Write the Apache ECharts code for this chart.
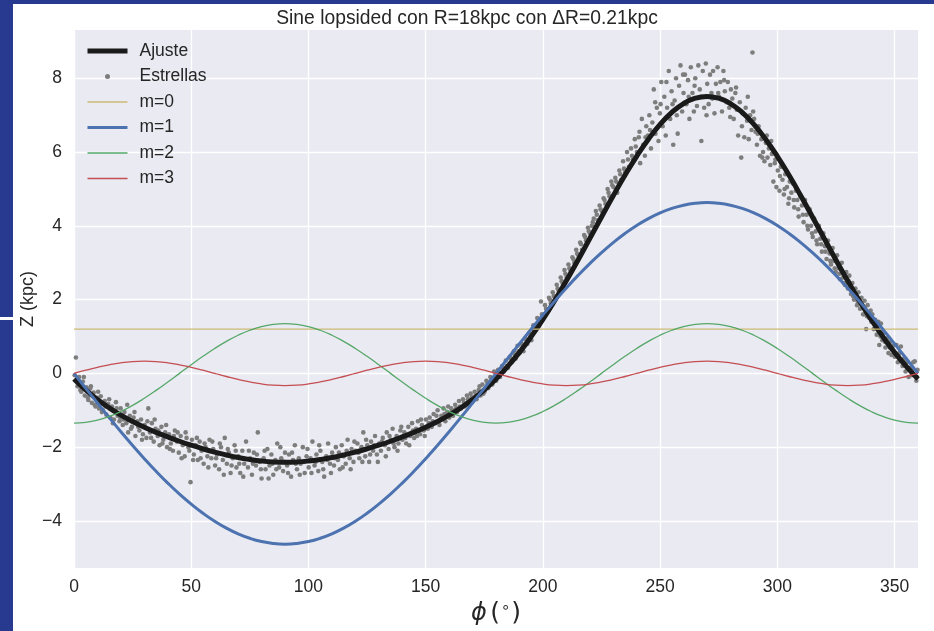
<!DOCTYPE html>
<html>
<head>
<meta charset="utf-8">
<script src="https://cdn.jsdelivr.net/npm/echarts@6/dist/echarts.min.js"></script>
<style>
html,body{margin:0;padding:0;background:#fff;}
#chart{width:934px;height:631px;}
</style>
</head>
<body>
<div id="chart"></div>
<script>
// ---- data ----
const titleText = 'Sine lopsided con R=18kpc con \u0394R=0.21kpc';
const seriesNames = ['Ajuste', 'Estrellas', 'm=0', 'm=1', 'm=2', 'm=3'];
const xTicks = [0, 50, 100, 150, 200, 250, 300, 350];
const yTicks = [-4, -2, 0, 2, 4, 6, 8];

const phiGrid = [0,5,10,15,20,25,30,35,40,45,50,55,60,65,70,75,80,85,90,95,100,105,110,115,120,125,130,135,140,145,150,155,160,165,170,175,180,185,190,195,200,205,210,215,220,225,230,235,240,245,250,255,260,265,270,275,280,285,290,295,300,305,310,315,320,325,330,335,340,345,350,355,360];

const ajuste = [-0.15,-0.448,-0.708,-0.934,-1.131,-1.306,-1.46,-1.599,-1.724,-1.841,-1.948,-2.046,-2.135,-2.213,-2.282,-2.336,-2.377,-2.402,-2.41,-2.402,-2.377,-2.336,-2.282,-2.213,-2.135,-2.046,-1.948,-1.841,-1.724,-1.599,-1.46,-1.306,-1.131,-0.934,-0.708,-0.448,-0.15,0.19,0.57,0.996,1.463,1.97,2.51,3.075,3.656,4.241,4.816,5.37,5.885,6.349,6.75,7.074,7.315,7.46,7.51,7.46,7.315,7.074,6.75,6.349,5.885,5.37,4.816,4.241,3.656,3.075,2.51,1.97,1.463,0.996,0.57,0.19,-0.15];

const m0Phi = [0, 360];
const m0 = [1.2, 1.2];

const m1 = [0,-0.404,-0.804,-1.198,-1.583,-1.957,-2.315,-2.656,-2.976,-3.274,-3.547,-3.793,-4.01,-4.196,-4.351,-4.472,-4.56,-4.612,-4.63,-4.612,-4.56,-4.472,-4.351,-4.196,-4.01,-3.793,-3.547,-3.274,-2.976,-2.656,-2.315,-1.957,-1.583,-1.198,-0.804,-0.404,0,0.404,0.804,1.198,1.583,1.957,2.315,2.656,2.976,3.274,3.547,3.793,4.01,4.196,4.351,4.472,4.56,4.612,4.63,4.612,4.56,4.472,4.351,4.196,4.01,3.793,3.547,3.274,2.976,2.656,2.315,1.957,1.583,1.198,0.804,0.404,0];

const m2 = [-1.35,-1.329,-1.269,-1.169,-1.034,-0.868,-0.675,-0.462,-0.234,0,0.234,0.462,0.675,0.868,1.034,1.169,1.269,1.329,1.35,1.329,1.269,1.169,1.034,0.868,0.675,0.462,0.234,0,-0.234,-0.462,-0.675,-0.868,-1.034,-1.169,-1.269,-1.329,-1.35,-1.329,-1.269,-1.169,-1.034,-0.868,-0.675,-0.462,-0.234,0,0.234,0.462,0.675,0.868,1.034,1.169,1.269,1.329,1.35,1.329,1.269,1.169,1.034,0.868,0.675,0.462,0.234,0,-0.234,-0.462,-0.675,-0.868,-1.034,-1.169,-1.269,-1.329,-1.35];

const m3 = [0,0.085,0.165,0.233,0.286,0.319,0.33,0.319,0.286,0.233,0.165,0.085,0,-0.085,-0.165,-0.233,-0.286,-0.319,-0.33,-0.319,-0.286,-0.233,-0.165,-0.085,0,0.085,0.165,0.233,0.286,0.319,0.33,0.319,0.286,0.233,0.165,0.085,0,-0.085,-0.165,-0.233,-0.286,-0.319,-0.33,-0.319,-0.286,-0.233,-0.165,-0.085,0,0.085,0.165,0.233,0.286,0.319,0.33,0.319,0.286,0.233,0.165,0.085,0,-0.085,-0.165,-0.233,-0.286,-0.319,-0.33,-0.319,-0.286,-0.233,-0.165,-0.085,0];

const estrellas = [
[0.3,-0.05],[0.8,0.43],[1.5,-0.35],[2.2,-0.1],[3.1,-0.5],[3.8,-0.22],[4.6,-0.6],[5.3,-0.38],[6.1,-0.72],[6.9,-0.41],[7.6,-0.8],[8.4,-0.52],[9.2,-0.9],[9.9,-0.66],
[10.7,-0.95],[11.4,-0.62],[12.3,-1.0],[13.1,-0.75],[13.8,-1.12],[14.6,-0.83],[15.5,-1.2],[16.2,-0.9],[17.0,-1.25],[17.9,-0.78],[18.6,-1.15],[19.4,-1.3],[19.9,-0.95],
[20.8,-1.4],[21.5,-1.05],[22.3,-1.35],[23.1,-1.6],[23.8,-1.15],[24.7,-1.45],[25.4,-1.2],[26.2,-1.7],[27.0,-1.3],[27.9,-1.55],[28.6,-1.25],[29.4,-1.65],[30.1,-1.4],
[30.9,-1.75],[31.7,-0.95],[32.4,-1.6],[33.2,-1.35],[34.0,-1.85],[34.8,-1.5],[35.7,-1.7],[36.5,-1.95],[37.3,-1.45],[38.1,-1.8],[38.9,-1.6],[39.7,-2.0],
[40.5,-1.65],[41.3,-1.9],[42.2,-2.1],[43.0,-1.55],[43.9,-1.85],[44.7,-2.15],[45.5,-1.7],[46.4,-1.95],[47.2,-2.25],[48.0,-1.75],[48.8,-2.0],[49.7,-2.95],[50.3,-1.8],
[51.1,-2.2],[51.9,-1.95],[52.8,-2.35],[53.6,-1.85],[54.4,-2.1],[55.3,-2.45],[56.1,-2.0],[56.9,-2.25],[57.8,-1.8],[58.6,-2.3],[59.4,-2.05],[60.2,-2.5],
[61.0,-2.2],[61.9,-2.6],[62.7,-2.0],[63.5,-2.35],[64.3,-1.75],[65.2,-2.45],[66.0,-2.15],[66.8,-2.7],[67.7,-2.3],[68.5,-1.95],[69.3,-2.55],[70.1,-2.25],
[70.9,-2.7],[71.8,-2.1],[72.6,-2.45],[73.4,-1.85],[74.2,-2.55],[75.1,-2.3],[75.9,-2.75],[76.7,-2.15],[77.6,-2.5],[78.4,-1.6],[79.2,-2.4],[80.0,-2.85],
[80.9,-2.3],[81.7,-2.6],[82.5,-2.05],[83.4,-2.5],[84.2,-2.2],[85.0,-2.75],[85.9,-2.35],[86.7,-1.9],[87.5,-2.55],[88.4,-2.3],[89.2,-2.65],[90.0,-2.15],
[90.9,-2.5],[91.7,-2.2],[92.6,-2.8],[93.4,-2.35],[94.2,-1.95],[95.1,-2.6],[95.9,-2.3],[96.7,-2.45],[97.6,-2.0],[98.4,-2.7],[99.2,-2.25],[100.1,-2.55],
[100.9,-2.3],[101.7,-1.85],[102.6,-2.5],[103.4,-2.2],[104.2,-2.65],[105.1,-2.1],[105.9,-2.4],[106.7,-2.8],[107.6,-2.25],[108.4,-1.9],[109.2,-2.45],[110.1,-2.15],
[110.9,-2.5],[111.7,-2.0],[112.6,-2.35],[113.4,-2.6],[114.2,-1.95],[115.1,-2.25],[115.9,-2.45],[116.7,-1.8],[117.6,-2.3],[118.4,-2.05],[119.2,-2.4],[120.1,-2.1],
[120.9,-1.9],[121.7,-2.3],[122.6,-2.0],[123.4,-1.6],[124.2,-2.25],[125.1,-1.95],[125.9,-2.4],[126.7,-1.85],[127.6,-2.1],[128.4,-1.7],[129.2,-2.2],[130.1,-1.9],
[130.9,-2.1],[131.7,-1.75],[132.6,-1.95],[133.4,-1.6],[134.2,-2.05],[135.1,-1.8],[135.9,-1.5],[136.7,-2.0],[137.6,-1.7],[138.4,-1.9],[139.2,-1.55],[140.1,-1.8],
[140.9,-1.6],[141.7,-1.9],[142.6,-1.45],[143.4,-1.7],[144.2,-1.35],[145.1,-1.75],[145.9,-1.5],[146.7,-1.3],[147.6,-1.65],[148.4,-1.4],[149.2,-1.55],[150.1,-1.25],
[150.9,-1.5],[151.7,-1.2],[152.6,-1.45],[153.4,-1.1],[154.2,-1.35],[155.1,-1.0],[155.9,-1.4],[156.7,-1.15],[157.6,-0.95],[158.4,-1.3],[159.2,-1.05],[160.1,-1.2],
[160.9,-0.95],[161.7,-1.15],[162.6,-0.85],[163.4,-1.05],[164.2,-0.75],[165.1,-0.95],[165.9,-0.7],[166.7,-0.9],[167.6,-0.6],[168.4,-0.85],[169.2,-0.55],[170.1,-0.75],
[170.9,-0.5],[171.7,-0.7],[172.6,-0.45],[173.4,-0.6],[174.2,-0.3],[175.1,-0.5],[175.9,-0.2],[176.7,-0.4],[177.6,-0.1],[178.4,-0.3],[179.2,0.05],[180.1,-0.2],
[180.9,0.1],[181.7,-0.1],[182.6,0.2],[183.4,0.05],[184.2,0.35],[185.1,0.15],[185.9,0.45],[186.7,0.3],[187.6,0.6],[188.4,0.4],[189.2,0.75],[190.1,0.55],
[190.9,0.8],[191.7,0.6],[192.6,0.95],[193.4,0.8],[194.2,1.1],[195.1,0.9],[195.9,1.3],[196.7,1.15],[197.6,1.5],[198.4,1.3],[199.2,1.95],[200.1,1.55],
[200.9,1.85],[201.7,1.65],[202.6,2.05],[203.4,1.9],[204.2,2.2],[205.1,2.0],[205.9,2.4],[206.7,2.25],[207.6,2.6],[208.4,2.45],[209.2,2.8],[210.1,2.6],
[210.9,2.95],[211.7,2.8],[212.6,3.15],[213.4,3.0],[214.2,3.35],[215.1,3.2],[215.9,3.55],[216.7,3.35],[217.6,3.75],[218.4,3.6],[219.2,3.95],[220.1,3.8],
[220.9,4.0],[221.7,4.2],[222.6,4.4],[223.4,4.15],[224.2,4.55],[225.1,4.4],[225.9,4.75],[226.7,4.6],[227.6,5.0],[228.4,4.8],[229.2,5.2],[230.1,5.05],
[230.9,5.3],[231.7,4.9],[232.6,5.5],[233.4,5.25],[234.2,5.75],[235.1,5.45],[235.9,6.0],[236.7,5.6],[237.6,6.1],[238.4,5.8],[239.2,6.35],[240.1,6.0],
[240.9,6.4],[241.5,5.7],[242.2,6.9],[242.8,6.2],[243.5,5.9],[244.1,6.7],[244.8,6.45],[245.4,7.0],[246.1,6.1],[246.7,6.8],[247.3,7.7],[248.0,6.5],[248.6,7.2],[249.3,6.3],[249.9,7.05],
[250.5,7.9],[251.1,6.7],[251.8,7.5],[252.4,6.45],[253.0,7.2],[253.7,8.2],[254.3,6.9],[254.9,7.65],[255.6,6.2],[256.2,7.4],[256.8,8.0],[257.5,6.5],[258.1,7.8],[258.7,8.35],[259.4,7.1],[260.0,7.6],
[260.6,8.1],[261.2,7.3],[261.9,7.95],[262.5,6.9],[263.1,8.3],[263.8,7.6],[264.4,7.1],[265.0,8.0],[265.7,7.25],[266.3,8.35],[266.9,7.7],[267.6,6.3],[268.2,8.2],[268.8,7.2],[269.5,8.4],[270.1,7.85],
[270.7,7.3],[271.3,8.1],[271.9,7.6],[272.6,8.2],[273.2,7.05],[273.8,7.85],[274.5,8.3],[275.1,7.5],[275.7,7.9],[276.4,7.1],[277.0,8.2],[277.6,7.65],[278.3,7.35],[278.9,7.9],[279.5,7.2],[280.2,7.7],
[280.8,7.45],[281.4,6.9],[282.1,7.6],[282.7,7.15],[283.3,6.45],[284.0,7.35],[284.6,5.85],[285.2,7.05],[285.9,6.4],[286.5,7.2],[287.1,6.85],[287.8,6.35],[288.4,7.0],[289.0,6.6],[289.4,8.7],[290.1,6.9],
[290.7,6.55],[291.3,6.2],[292.0,6.7],[292.6,5.9],[293.2,6.35],[293.9,6.0],[294.5,5.75],[295.1,6.25],[295.8,5.85],[296.4,6.1],[297.0,5.65],[297.7,5.95],[298.3,5.2],[298.9,5.7],[299.6,5.05],[300.2,5.5],
[300.9,4.95],[301.5,5.6],[302.2,5.25],[302.8,4.85],[303.4,5.4],[304.1,5.05],[304.7,4.6],[305.3,5.2],[306.0,4.9],[306.6,5.15],[307.2,4.5],[307.9,4.95],[308.5,4.7],[309.1,4.25],[309.8,4.8],
[310.5,4.55],[311.2,4.1],[311.8,4.7],[312.5,4.3],[313.1,3.9],[313.8,4.45],[314.4,4.0],[315.1,3.7],[315.7,4.2],[316.4,3.85],[317.0,3.5],[317.7,4.0],[318.3,3.65],[319.0,3.3],[319.6,3.8],
[320.3,3.45],[321.0,3.1],[321.6,3.6],[322.3,3.25],[322.9,2.95],[323.6,3.4],[324.2,3.05],[324.9,2.75],[325.5,3.2],[326.2,2.85],[326.8,2.55],[327.5,3.0],[328.1,2.6],[328.8,2.4],[329.4,2.75],
[330.1,2.3],[330.7,2.65],[331.4,2.15],[332.0,2.45],[332.7,2.0],[333.3,2.3],[334.0,1.85],[334.6,2.2],[335.3,1.75],[335.9,2.05],[336.6,1.6],[337.2,1.97],[337.9,1.2],[338.5,1.85],[339.2,1.5],[339.8,1.7],
[340.5,1.6],[341.1,1.2],[341.8,1.45],[342.4,1.05],[343.1,1.4],[343.5,0.77],[344.2,1.35],[344.8,0.9],[345.5,1.1],[346.1,0.7],[346.8,0.95],[347.4,0.55],[348.1,0.85],[348.7,0.5],[349.4,0.75],
[350.1,0.45],[350.8,0.77],[351.4,0.3],[352.1,0.55],[352.7,0.73],[353.4,0.2],[354.0,0.4],[354.7,0.05],[355.3,0.3],[356.0,-0.1],[356.6,0.15],[357.3,-0.05],[358.0,0.3],[358.6,0.33],[359.3,-0.2],[359.8,0.1],
[1.1,-0.2],[2.7,-0.45],[4.2,-0.1],[5.8,-0.65],[7.2,-0.35],[8.8,-0.85],[10.3,-0.5],[11.9,-1.05],[13.4,-0.9],[15.0,-0.7],[16.6,-1.35],[18.2,-0.95],[19.7,-1.2],[21.1,-1.25],[22.7,-0.85],[24.3,-1.5],[25.8,-1.05],[27.4,-1.45],[29.0,-1.8],
[31.3,-1.3],[32.9,-1.75],[34.4,-1.25],[36.0,-1.55],[37.7,-1.9],[39.3,-1.4],[40.9,-2.05],[42.6,-1.7],[44.2,-1.6],[45.9,-2.3],[47.6,-1.6],[49.2,-2.1],[50.8,-2.35],[52.4,-1.75],[54.0,-2.3],[55.7,-1.9],[57.3,-2.55],[59.0,-1.85],
[60.6,-2.3],[62.2,-1.9],[63.9,-2.75],[65.6,-2.05],[67.2,-2.5],[69.0,-2.1],[70.5,-2.45],[72.2,-2.8],[74.6,-2.1],[76.3,-2.45],[78.0,-2.2],[79.7,-2.6],[81.3,-2.1],[83.0,-2.85],[84.6,-2.45],[86.3,-2.6],[88.0,-2.0],[89.6,-2.4],
[91.3,-2.7],[93.0,-2.15],[94.6,-2.45],[96.3,-2.75],[98.0,-2.4],[99.6,-2.05],[101.3,-2.7],[103.0,-2.4],[104.6,-1.95],[106.3,-2.6],[108.0,-2.35],[109.6,-2.7],[111.3,-2.3],[113.0,-2.15],[114.6,-2.55],[116.3,-2.1],[118.0,-2.6],[119.6,-1.85],
[121.3,-2.15],[123.0,-2.4],[124.6,-1.8],[126.3,-2.2],[128.0,-1.95],[129.6,-2.4],[131.3,-1.85],[133.0,-2.25],[134.6,-1.7],[136.3,-1.9],[138.0,-2.1],[139.6,-1.45],[141.3,-1.75],[143.0,-1.95],[144.6,-1.55],[146.3,-1.7],[148.0,-1.25],[149.6,-1.7],
[151.3,-1.35],[153.0,-1.3],[154.6,-1.15],[156.3,-1.25],[158.0,-1.1],[159.6,-0.9],[161.3,-1.0],[163.0,-0.95],[164.6,-0.9],[166.3,-0.8],[168.0,-0.7],[169.6,-0.65],[171.3,-0.6],[173.0,-0.35],[174.6,-0.55],[176.3,-0.25],[178.0,-0.2],[179.6,-0.1],
[181.3,0.0],[183.0,0.15],[184.6,0.2],[186.3,0.4],[188.0,0.5],[189.6,0.6],[191.3,0.7],[193.0,0.9],[194.6,1.0],[196.3,1.2],[198.0,1.35],[199.6,1.6],[201.3,1.75],[203.0,2.0],[204.6,2.1],[206.3,2.3],[208.0,2.5],[209.6,2.7],
[211.3,2.85],[213.0,3.1],[214.6,3.25],[216.3,3.5],[218.0,3.7],[219.6,3.85],[221.3,4.1],[223.0,4.3],[224.6,4.45],[226.3,4.7],[228.0,4.9],[229.6,5.1],[231.3,5.2],[233.0,5.4],[234.6,5.55],[236.3,5.8],[238.0,5.9],[239.6,6.15],
[241.2,6.55],[243.8,6.4],[245.7,6.6],[247.9,7.35],[250.2,7.3],[252.7,7.9],[255.3,7.3],[257.1,7.0],[259.8,8.1],[262.2,7.5],[264.7,7.8],[267.3,7.5],[269.8,7.0],[272.3,7.45],[274.8,7.6],[277.3,7.95],[279.9,6.95],[282.4,7.75],
[284.9,6.7],[287.4,7.5],[289.7,7.1],[291.6,6.5],[293.6,5.85],[295.5,6.45],[297.4,6.3],[299.2,5.8],
[301.1,5.35],[303.1,5.0],[305.0,4.75],[307.0,4.7],[308.9,4.45],[310.9,4.3],[312.8,4.0],[314.8,3.8],[316.7,3.6],[318.7,3.5],[320.6,3.3],[322.6,3.05],[324.5,2.85],[326.5,2.7],[328.4,2.45],[330.4,2.5],
[332.3,2.1],[334.3,1.95],[336.2,1.85],[338.2,1.55],[340.1,1.4],[342.1,1.3],[344.0,1.0],[346.0,0.85],[347.9,0.7],[349.8,0.55],[351.8,0.45],[353.7,0.35],[355.6,0.1],[357.6,0.1],[359.5,-0.1]
];

// ---- build ----
const zip = (xs, ys) => xs.map((x, i) => [x, ys[i]]);
const FONT = 'Liberation Sans, Arial, sans-serif';
const TXT = '#262626';

const chart = echarts.init(document.getElementById('chart'), null, {renderer: 'canvas'});
const option = {
  animation: false,
  backgroundColor: '#ffffff',
  title: {
    text: titleText, left: 'center', top: 4,
    textStyle: {fontFamily: FONT, fontSize: 19.3, fontWeight: 'normal', color: TXT}
  },
  grid: {left: 74, right: 16, top: 30, bottom: 54, show: true, backgroundColor: '#EAEAF2', borderWidth: 0, containLabel: false},
  legend: {
    orient: 'vertical', left: 80, top: 37, itemWidth: 40, itemHeight: 5, itemGap: 7.5,
    textStyle: {fontFamily: FONT, fontSize: 17.5, color: TXT, padding: [0, 0, 0, 7]},
    itemStyle: {opacity: 0},
    data: [
      {name: seriesNames[0], lineStyle: {width: 5}},
      {name: seriesNames[1], itemStyle: {opacity: 1}},
      {name: seriesNames[2], lineStyle: {width: 1.3}},
      {name: seriesNames[3], lineStyle: {width: 3}},
      {name: seriesNames[4], lineStyle: {width: 1.3}},
      {name: seriesNames[5], lineStyle: {width: 1.3}}
    ]
  },
  xAxis: {
    type: 'value', min: 0, max: 360,
    name: '{p|\u03D5} {b|(}{d|\u2218}{b|)}', nameLocation: 'middle', nameGap: 16,
    nameTextStyle: {
      rich: {
        p: {fontFamily: 'DejaVu Sans', fontStyle: 'italic', fontSize: 24, color: TXT},
        b: {fontFamily: 'DejaVu Sans', fontSize: 25, color: TXT},
        d: {fontFamily: 'DejaVu Sans', fontSize: 15, color: TXT, verticalAlign: 'top', padding: [0, 1, 10, 1]}
      }
    },
    axisLine: {show: false},
    axisTick: {show: false, customValues: xTicks},
    axisLabel: {customValues: xTicks, margin: 10, fontFamily: FONT, fontSize: 17.5, color: TXT},
    splitLine: {show: true, lineStyle: {color: '#ffffff', width: 1.3}}
  },
  yAxis: {
    type: 'value', min: -5.28, max: 9.31,
    name: 'Z (kpc)', nameLocation: 'middle', nameGap: 37, nameRotate: 90, nameMoveOverlap: false,
    nameTextStyle: {fontFamily: FONT, fontSize: 18, color: TXT},
    axisLine: {show: false},
    axisTick: {show: false, customValues: yTicks},
    axisLabel: {customValues: yTicks, margin: 12, fontFamily: FONT, fontSize: 17.5, color: TXT,
      formatter: v => String(v).replace('-', '\u2212')},
    splitLine: {show: true, lineStyle: {color: '#ffffff', width: 1.3}}
  },
  series: [
    {name: seriesNames[0], type: 'line', data: zip(phiGrid, ajuste), smooth: true, symbol: 'none',
      lineStyle: {color: '#1a1a1a', width: 5}, itemStyle: {color: '#1a1a1a'}},
    {name: seriesNames[1], type: 'scatter', data: estrellas, symbol: 'circle', symbolSize: 4.6,
      itemStyle: {color: '#7d7d7d', opacity: 1}},
    {name: seriesNames[2], type: 'line', data: zip(m0Phi, m0), symbol: 'none',
      lineStyle: {color: '#CCB974', width: 1.3}, itemStyle: {color: '#CCB974'}},
    {name: seriesNames[3], type: 'line', data: zip(phiGrid, m1), smooth: true, symbol: 'none',
      lineStyle: {color: '#4C72B0', width: 3}, itemStyle: {color: '#4C72B0'}},
    {name: seriesNames[4], type: 'line', data: zip(phiGrid, m2), smooth: true, symbol: 'none',
      lineStyle: {color: '#55A868', width: 1.3}, itemStyle: {color: '#55A868'}},
    {name: seriesNames[5], type: 'line', data: zip(phiGrid, m3), smooth: true, symbol: 'none',
      lineStyle: {color: '#C44E52', width: 1.3}, itemStyle: {color: '#C44E52'}}
  ],
  graphic: [
    {type: 'rect', left: 0, top: 0, silent: true, shape: {width: 13, height: 631}, style: {fill: '#283a8f'}, z: 100},
    {type: 'rect', left: 0, top: 0, silent: true, shape: {width: 934, height: 4}, style: {fill: '#283a8f'}, z: 100},
    {type: 'rect', left: 0, top: 317, silent: true, shape: {width: 13, height: 3}, style: {fill: '#ffffff'}, z: 101}
  ]
};
chart.setOption(option);
</script>
</body>
</html>
